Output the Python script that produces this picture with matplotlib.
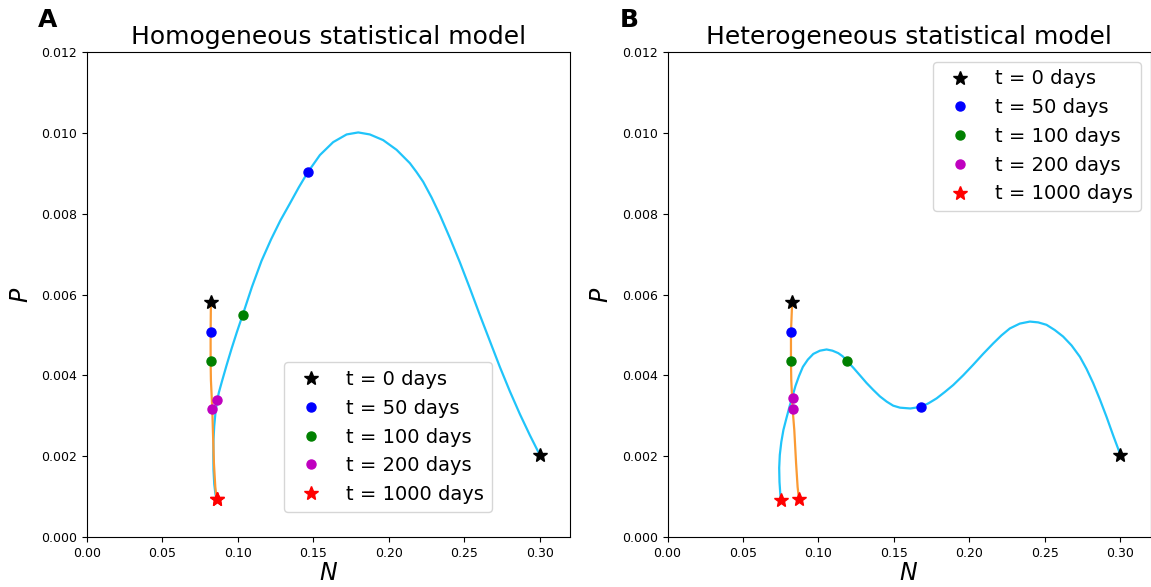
import numpy as np
import matplotlib
matplotlib.use("Agg")
import matplotlib.pyplot as plt

# trajectories in the (N, P) plane, read off the model runs
# panel A : homogeneous model
A_blue_N = [0.3000, 0.2934, 0.2868, 0.2801, 0.2735, 0.2669, 0.2603, 0.2536, 0.2470,
            0.2404, 0.2338, 0.2283, 0.2227, 0.2183, 0.2139, 0.2051, 0.1962, 0.1874,
            0.1797, 0.1720, 0.1631, 0.1543, 0.1462, 0.1403, 0.1344, 0.1281, 0.1219,
            0.1156, 0.1093, 0.1031, 0.0993, 0.0957, 0.0924, 0.0894, 0.0874, 0.0863,
            0.0851, 0.0843, 0.0838, 0.0837, 0.0838, 0.0843, 0.0851, 0.0859]
A_blue_P = [0.00203, 0.00252, 0.00304, 0.00361, 0.00421, 0.00485, 0.00549, 0.00616, 0.00680,
            0.00740, 0.00797, 0.00840, 0.00879, 0.00903, 0.00925, 0.00958, 0.00982, 0.00996,
            0.01001, 0.00996, 0.00977, 0.00945, 0.00902, 0.00865, 0.00825, 0.00783, 0.00736,
            0.00683, 0.00619, 0.00549, 0.00507, 0.00465, 0.00424, 0.00385, 0.00358, 0.00339,
            0.00307, 0.00275, 0.00240, 0.00203, 0.00166, 0.00131, 0.00106, 0.00094]
A_orange_N = [0.0821, 0.0819, 0.0819, 0.0821, 0.0830, 0.0834, 0.0841, 0.0850, 0.0859]
A_orange_P = [0.00581, 0.00508, 0.00436, 0.00388, 0.00316, 0.00265, 0.00182, 0.00124, 0.00094]

# panel B : heterogeneous model
B_blue_N = [0.3001, 0.2954, 0.2909, 0.2864, 0.2820, 0.2776, 0.2732, 0.2677, 0.2621,
            0.2566, 0.2511, 0.2456, 0.2401, 0.2334, 0.2268, 0.2213, 0.2158, 0.2091,
            0.2025, 0.1959, 0.1893, 0.1838, 0.1783, 0.1730, 0.1679, 0.1609, 0.1540,
            0.1495, 0.1452, 0.1407, 0.1363, 0.1319, 0.1275, 0.1233, 0.1191, 0.1161,
            0.1131, 0.1093, 0.1054, 0.1010, 0.0966, 0.0930, 0.0897, 0.0871, 0.0848,
            0.0828, 0.0808, 0.0788, 0.0768, 0.0754, 0.0744, 0.0740, 0.0742, 0.0750]
B_blue_P = [0.00203, 0.00250, 0.00297, 0.00341, 0.00381, 0.00416, 0.00446, 0.00474, 0.00496,
            0.00512, 0.00525, 0.00531, 0.00533, 0.00528, 0.00516, 0.00499, 0.00479, 0.00453,
            0.00426, 0.00400, 0.00376, 0.00359, 0.00343, 0.00331, 0.00322, 0.00318, 0.00320,
            0.00325, 0.00335, 0.00348, 0.00364, 0.00381, 0.00400, 0.00418, 0.00435, 0.00447,
            0.00455, 0.00461, 0.00464, 0.00461, 0.00453, 0.00439, 0.00421, 0.00398, 0.00374,
            0.00348, 0.00322, 0.00294, 0.00265, 0.00235, 0.00203, 0.00171, 0.00136, 0.00092]
B_orange_N = [0.0826, 0.0818, 0.0818, 0.0820, 0.0829, 0.0840, 0.0852, 0.0862, 0.0871]
B_orange_P = [0.00581, 0.00508, 0.00436, 0.00388, 0.00316, 0.00265, 0.00182, 0.00124, 0.00094]

# states at t = 0, 50, 100, 200, 1000 days
labels = ["t = 0 days", "t = 50 days", "t = 100 days", "t = 200 days", "t = 1000 days"]
mk_colors = ["k", "b", "g", "m", "r"]
mk_shapes = ["*", "o", "o", "o", "*"]

A_blue_mN = [0.3000, 0.1462, 0.1031, 0.0863, 0.0859]
A_blue_mP = [0.00203, 0.00902, 0.00549, 0.00339, 0.00094]
A_orange_mN = [0.0821, 0.0821, 0.0821, 0.0830, 0.0859]
A_orange_mP = [0.00581, 0.00508, 0.00436, 0.00316, 0.00094]

B_blue_mN = [0.3001, 0.1679, 0.1191, 0.0834, 0.0750]
B_blue_mP = [0.00203, 0.00322, 0.00435, 0.00345, 0.00092]
B_orange_mN = [0.0826, 0.0818, 0.0818, 0.0829, 0.0871]
B_orange_mP = [0.00581, 0.00508, 0.00436, 0.00316, 0.00094]

blue_line = "#20c4fa"
orange_line = "#fb9a33"

fig = plt.figure(figsize=(11.51, 5.87), dpi=100)
W, H = 1151.0, 587.0
axA = fig.add_axes([87 / W, 50 / H, 483 / W, 485 / H])
axB = fig.add_axes([667.5 / W, 50 / H, 483 / W, 485 / H])


def draw(ax, bN, bP, oN, oP, bmN, bmP, omN, omP, title, loc, anchor):
    ax.plot(bN, bP, color=blue_line, lw=1.6, zorder=2)
    ax.plot(oN, oP, color=orange_line, lw=1.6, zorder=2)
    for i in range(5):
        ms = 10 if mk_shapes[i] == "*" else 6.5
        ax.plot(bmN[i], bmP[i], ls="none", marker=mk_shapes[i], color=mk_colors[i],
                ms=ms, label=labels[i], zorder=3)
        ax.plot(omN[i], omP[i], ls="none", marker=mk_shapes[i], color=mk_colors[i],
                ms=ms, zorder=3)
    ax.set_xlim(0, 0.32)
    ax.set_ylim(0, 0.012)
    ax.set_xticks(np.arange(0, 0.31, 0.05))
    ax.set_yticks(np.arange(0, 0.0121, 0.002))
    ax.tick_params(labelsize=9)
    ax.set_xlabel("$N$", fontsize=17, labelpad=1)
    ax.set_ylabel("$P$", fontsize=17, labelpad=6)
    ax.set_title(title, fontsize=18, pad=6)
    if anchor is None:
        ax.legend(loc=loc, fontsize=14)
    else:
        ax.legend(loc=loc, bbox_to_anchor=anchor, borderaxespad=0, fontsize=14)


draw(axA, A_blue_N, A_blue_P, A_orange_N, A_orange_P,
     A_blue_mN, A_blue_mP, A_orange_mN, A_orange_mP,
     "Homogeneous statistical model", "lower left", (0.408, 0.052))
draw(axB, B_blue_N, B_blue_P, B_orange_N, B_orange_P,
     B_blue_mN, B_blue_mP, B_orange_mN, B_orange_mP,
     "Heterogeneous statistical model", "upper right", None)

fig.text(38 / W, 1 - 27 / H, "A", fontsize=18, fontweight="bold")
fig.text(620 / W, 1 - 27 / H, "B", fontsize=18, fontweight="bold")

fig.savefig("out.png", dpi=100)
